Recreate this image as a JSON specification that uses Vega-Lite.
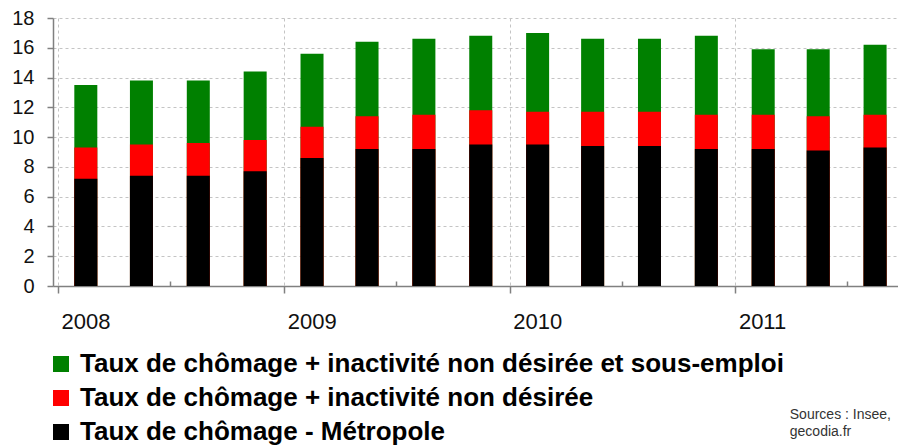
{
  "$schema": "https://vega.github.io/schema/vega-lite/v6.json",
  "width": 845,
  "height": 268,
  "autosize": {"type": "none"},
  "padding": {"left": 53, "top": 18, "right": 0, "bottom": 159},
  "background": "white",
  "config": {
    "view": {"stroke": null},
    "font": "Liberation Sans"
  },
  "resolve": {"axis": {"x": "independent"}},
  "layer": [
    {
      "data": {
        "values": [
          {"trimestre": "2008-02-15", "vert": 13.5, "rouge": 9.3, "noir": 7.2},
          {"trimestre": "2008-05-15", "vert": 13.8, "rouge": 9.5, "noir": 7.4},
          {"trimestre": "2008-08-15", "vert": 13.8, "rouge": 9.6, "noir": 7.4},
          {"trimestre": "2008-11-15", "vert": 14.4, "rouge": 9.8, "noir": 7.7},
          {"trimestre": "2009-02-15", "vert": 15.6, "rouge": 10.7, "noir": 8.6},
          {"trimestre": "2009-05-15", "vert": 16.4, "rouge": 11.4, "noir": 9.2},
          {"trimestre": "2009-08-15", "vert": 16.6, "rouge": 11.5, "noir": 9.2},
          {"trimestre": "2009-11-15", "vert": 16.8, "rouge": 11.8, "noir": 9.5},
          {"trimestre": "2010-02-15", "vert": 17.0, "rouge": 11.7, "noir": 9.5},
          {"trimestre": "2010-05-15", "vert": 16.6, "rouge": 11.7, "noir": 9.4},
          {"trimestre": "2010-08-15", "vert": 16.6, "rouge": 11.7, "noir": 9.4},
          {"trimestre": "2010-11-15", "vert": 16.8, "rouge": 11.5, "noir": 9.2},
          {"trimestre": "2011-02-15", "vert": 15.9, "rouge": 11.5, "noir": 9.2},
          {"trimestre": "2011-05-15", "vert": 15.9, "rouge": 11.4, "noir": 9.1},
          {"trimestre": "2011-08-15", "vert": 16.2, "rouge": 11.5, "noir": 9.3}
        ]
      },
      "transform": [
        {"fold": ["vert", "rouge", "noir"], "as": ["serie", "taux"]}
      ],
      "mark": {"type": "bar", "size": 23},
      "encoding": {
        "x": {
          "field": "trimestre",
          "type": "temporal",
          "scale": {"type": "utc", "domain": [{"year": 2008, "month": 1, "date": 1, "utc": true}, {"year": 2011, "month": 9, "date": 13, "utc": true}]},
          "axis": {
            "orient": "bottom",
            "values": [
              {"year": 2008, "month": 1, "date": 1, "utc": true},
              {"year": 2009, "month": 1, "date": 1, "utc": true},
              {"year": 2010, "month": 1, "date": 1, "utc": true},
              {"year": 2011, "month": 1, "date": 1, "utc": true}
            ],
            "format": "%Y",
            "labelAlign": "left",
            "labelBaseline": "top",
            "labelOffset": 3,
            "labelFontSize": 22,
            "labelPadding": 18,
            "labelColor": "#111",
            "labelFont": "Liberation Sans",
            "labelOverlap": false,
            "tickSize": 7,
            "tickColor": "#808080",
            "tickWidth": 1.5,
            "domainColor": "#808080",
            "domainWidth": 1.5,
            "grid": true,
            "gridColor": "#c4c4c4",
            "gridDash": [3, 3],
            "title": null
          }
        },
        "y": {
          "field": "taux",
          "type": "quantitative",
          "stack": null,
          "scale": {"domain": [0, 18], "nice": false},
          "axis": {
            "values": [0, 2, 4, 6, 8, 10, 12, 14, 16, 18],
            "labelOverlap": false,
            "labelFontSize": 20,
            "labelColor": "#111",
            "labelFont": "Liberation Sans",
            "labelPadding": 13,
            "tickSize": 6,
            "tickColor": "#808080",
            "tickWidth": 1.5,
            "domainColor": "#808080",
            "domainWidth": 1.5,
            "grid": true,
            "gridColor": "#c4c4c4",
            "gridDash": [3, 3],
            "title": null
          }
        },
        "color": {
          "field": "serie",
          "type": "nominal",
          "scale": {
            "domain": ["vert", "rouge", "noir"],
            "range": ["#008000", "#ff0000", "#000000"]
          },
          "legend": {
            "orient": "none",
            "legendX": -5,
            "legendY": 333,
            "direction": "vertical",
            "title": null,
            "padding": 0,
            "symbolType": "square",
            "symbolSize": 256,
            "symbolStrokeWidth": 0,
            "symbolOpacity": 1,
            "labelExpr": "datum.value == 'vert' ? 'Taux de chômage + inactivité non désirée et sous-emploi' : datum.value == 'rouge' ? 'Taux de chômage + inactivité non désirée' : 'Taux de chômage - Métropole'",
            "labelFont": "Liberation Sans",
            "labelFontWeight": "bold",
            "labelFontSize": 26,
            "labelColor": "#000",
            "labelLimit": 900,
            "labelOffset": 6,
            "rowPadding": 8
          }
        }
      }
    },
    {
      "mark": {"type": "rule", "color": "#a8a8a8", "strokeWidth": 2},
      "encoding": {
        "y": {
          "datum": 18,
          "type": "quantitative",
          "axis": {
            "values": [0, 2, 4, 6, 8, 10, 12, 14, 16, 18],
            "labelOverlap": false,
            "labelFontSize": 20,
            "labelColor": "#111",
            "labelFont": "Liberation Sans",
            "labelPadding": 13,
            "tickSize": 6,
            "tickColor": "#808080",
            "tickWidth": 1.5,
            "domainColor": "#808080",
            "domainWidth": 1.5,
            "grid": true,
            "gridColor": "#c4c4c4",
            "gridDash": [3, 3],
            "title": null
          }
        }
      }
    },
    {
      "data": {"values": [{"source": "Insee, gecodia.fr"}]},
      "mark": {
        "type": "text",
        "text": ["Sources : Insee,", "gecodia.fr"],
        "align": "left",
        "baseline": "alphabetic",
        "font": "Liberation Sans",
        "fontSize": 14,
        "lineHeight": 17,
        "color": "#333"
      },
      "encoding": {
        "x": {
          "datum": {"year": 2011, "month": 3, "date": 30, "utc": true},
          "type": "temporal",
          "axis": {
            "orient": "bottom",
            "offset": -5,
            "values": [
              {"year": 2008, "month": 7, "date": 1, "utc": true},
              {"year": 2009, "month": 7, "date": 1, "utc": true},
              {"year": 2010, "month": 7, "date": 1, "utc": true},
              {"year": 2011, "month": 7, "date": 1, "utc": true}
            ],
            "labels": false,
            "domain": false,
            "grid": false,
            "tickSize": 5,
            "tickColor": "#808080",
            "tickWidth": 1.5,
            "title": null
          }
        },
        "y": {
          "datum": -8.93,
          "type": "quantitative",
          "axis": {
            "values": [0, 2, 4, 6, 8, 10, 12, 14, 16, 18],
            "labelOverlap": false,
            "labelFontSize": 20,
            "labelColor": "#111",
            "labelFont": "Liberation Sans",
            "labelPadding": 13,
            "tickSize": 6,
            "tickColor": "#808080",
            "tickWidth": 1.5,
            "domainColor": "#808080",
            "domainWidth": 1.5,
            "grid": true,
            "gridColor": "#c4c4c4",
            "gridDash": [3, 3],
            "title": null
          }
        }
      }
    }
  ]
}
